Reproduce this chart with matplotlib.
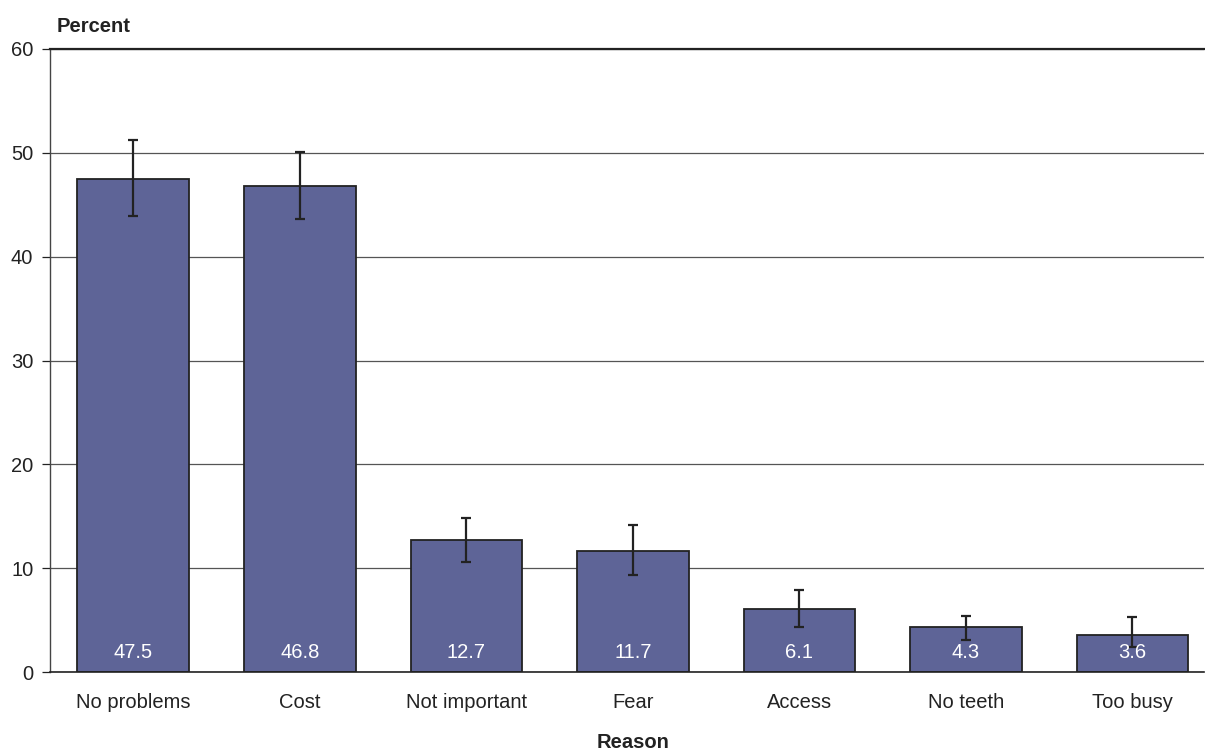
import matplotlib
matplotlib.use("Agg")
import matplotlib.pyplot as plt
import numpy as np

plt.rcParams['font.family'] = ['Liberation Sans', 'DejaVu Sans']

# Data
reasons = ["No problems", "Cost", "Not important", "Fear", "Access", "No teeth", "Too busy"]
percent = [47.5, 46.8, 12.7, 11.7, 6.1, 4.3, 3.6]
ci_upper = [51.2, 50.1, 14.8, 14.2, 7.85, 5.42, 5.26]
ci_lower = [43.9, 43.6, 10.6, 9.3, 4.33, 3.04, 2.37]

x = np.arange(len(reasons))
yerr = [np.array(percent) - np.array(ci_lower), np.array(ci_upper) - np.array(percent)]

fig = plt.figure(figsize=(12.05, 7.52), dpi=100)
ax = fig.add_axes([50 / 1205, 1 - 672 / 752, (1204 - 50) / 1205, (672 - 49) / 752])

ax.set_axisbelow(True)
ax.yaxis.grid(True, color='#555555', linewidth=0.9)
bars = ax.bar(x, percent, width=0.67, color='#5E6497', edgecolor='#222222', linewidth=1.3, zorder=2)
ax.errorbar(x, percent, yerr=yerr, fmt='none', ecolor='#222222', elinewidth=1.6,
            capsize=3.6, capthick=1.6, zorder=3)

# value labels inside bars near the base
for xi, v in zip(x, percent):
    ax.text(xi, 1.9, f"{v}", ha='center', va='center', color='white', fontsize=14.5, zorder=4)

ax.set_xlim(-0.5, 6.43)
ax.set_ylim(0, 60)
ax.set_yticks([0, 10, 20, 30, 40, 50, 60])
ax.set_xticks(x)
ax.set_xticklabels(reasons)
ax.tick_params(axis='x', length=0, pad=15, labelsize=14.5, colors='#222222')
ax.tick_params(axis='y', length=6, width=0.9, pad=6, labelsize=14.5, colors='#222222')

ax.spines['right'].set_visible(False)
ax.spines['top'].set_color('#222222')
ax.spines['top'].set_linewidth(1.6)
ax.spines['left'].set_color('#444444')
ax.spines['left'].set_linewidth(1.0)
ax.spines['bottom'].set_color('#222222')
ax.spines['bottom'].set_linewidth(1.2)

fig.text(57 / 1205, 1 - 26 / 752, "Percent", fontsize=14.5, fontweight='bold', va='center', ha='left', color='#222222')
fig.text(633 / 1205, 1 - 743 / 752, "Reason", fontsize=14.5, fontweight='bold', va='center', ha='center', color='#222222')

fig.savefig("out.png", dpi=100)
